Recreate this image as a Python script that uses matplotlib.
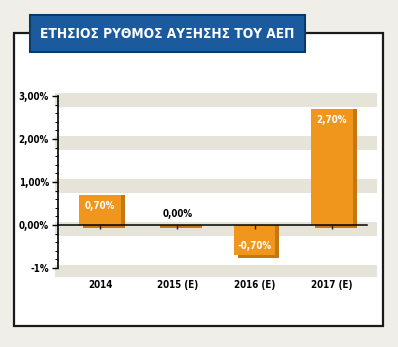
import matplotlib.pyplot as plt
from matplotlib.patches import Rectangle
from matplotlib.ticker import FixedLocator

# GDP growth per year (%)
years = ['2014', '2015 (E)', '2016 (E)', '2017 (E)']
growth = [0.70, 0.00, -0.70, 2.70]
ytick_values = [-1, 0, 1, 2, 3]
ytick_labels = ['-1%', '0,00%', '1,00%', '2,00%', '3,00%']
title = 'ΕΤΗΣΙΟΣ ΡΥΘΜΟΣ ΑΥΞΗΣΗΣ ΤΟΥ ΑΕΠ'

plt.rcParams['font.family'] = ['DejaVu Sans']
plt.rcParams['font.stretch'] = 'condensed'
plt.rcParams['font.weight'] = 'bold'

ORANGE = '#f0961c'
SHADOW = '#c57812'
BAND = '#e6e4d8'
PAGE = '#efeee8'
BLUE = '#1b5b9d'

fig = plt.figure(figsize=(3.98, 3.47), dpi=100)
fig.patch.set_facecolor(PAGE)

# frame and title box, drawn in pixel coordinates
bg = fig.add_axes([0, 0, 1, 1])
bg.set_xlim(0, 398)
bg.set_ylim(347, 0)
bg.axis('off')
bg.add_patch(Rectangle((14, 33), 369, 293, facecolor='white', edgecolor='#1a1a1a', lw=1.6))
bg.add_patch(Rectangle((30, 15), 275, 37, facecolor=BLUE, edgecolor='#0c3a68', lw=1.5, zorder=3))
bg.text(167.5, 34, title, color='white', fontsize=9.8, fontweight='bold',
        ha='center', va='center', zorder=4)

ax = fig.add_axes([0.1382, 0.2003, 0.809, 0.5478])
ax.set_xlim(-0.582, 3.583)
ax.set_ylim(-1.22, 3.2)
ax.patch.set_alpha(0)

# horizontal grey bands
for v in ytick_values:
    ax.axhspan(v - 0.26, v + 0.07, color=BAND, lw=0, zorder=0)

x = range(len(years))
w = 0.54
dx, dy = 0.05, 0.07
# extruded look: darker copy shifted right and down, face on top
ax.bar([i + dx for i in x], [g - dy if g <= 0 else g + dy for g in growth],
       bottom=[0 if g <= 0 else -dy for g in growth], width=w,
       color=SHADOW, zorder=2)
ax.bar(x, growth, width=w, color=ORANGE, zorder=3)

for i, g in zip(x, growth):
    txt = f'{g:.2f}'.replace('.', ',') + '%'
    if g > 0:
        ax.text(i, g - 0.26, txt, color='white', ha='center', va='center', fontsize=7, zorder=5)
    elif g < 0:
        ax.text(i, g + 0.22, txt, color='white', ha='center', va='center', fontsize=7, zorder=5)
    else:
        ax.text(i, 0.26, txt, color='black', ha='center', va='center', fontsize=7, zorder=5)

# zero line with small category ticks
ax.plot([-0.543, 3.45], [0, 0], color='black', lw=1.1, zorder=6)
ax.vlines(list(x), -0.09, 0, color='#222222', lw=1, zorder=6)

for s in ['top', 'right', 'bottom']:
    ax.spines[s].set_visible(False)
ax.spines['left'].set_position(('data', -0.543))
ax.spines['left'].set_bounds(-1, 3)
ax.spines['left'].set_linewidth(1.2)
ax.set_yticks(ytick_values)
ax.set_yticklabels(ytick_labels, fontsize=7)
minor = [m / 5 for m in range(-5, 16) if m % 5]
ax.yaxis.set_minor_locator(FixedLocator(minor))
ax.tick_params(axis='y', which='major', length=4.5, width=1, pad=2)
ax.tick_params(axis='y', which='minor', length=2.5, width=0.7)
ax.set_xticks(list(x))
ax.set_xticklabels(years, fontsize=7)
ax.tick_params(axis='x', length=0, pad=2)

fig.savefig('out.png', dpi=100, facecolor=PAGE)
